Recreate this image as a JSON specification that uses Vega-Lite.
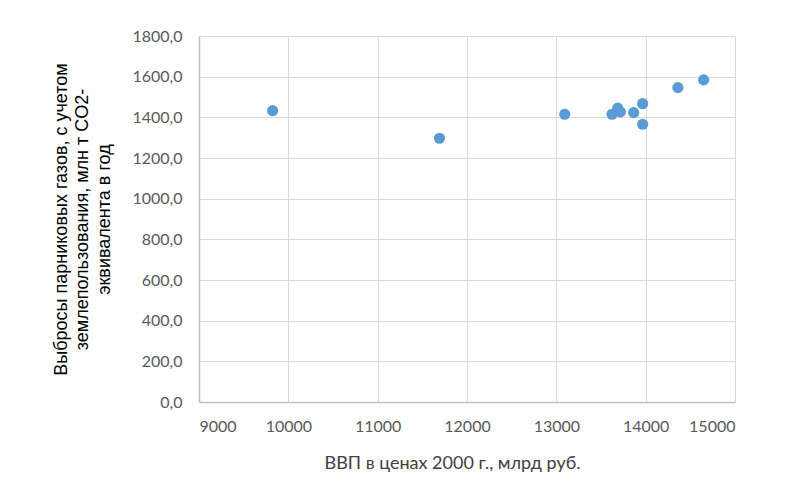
{
  "$schema": "https://vega.github.io/schema/vega-lite/v6.json",
  "width": 536,
  "height": 366,
  "autosize": {"type": "none"},
  "padding": {"left": 199, "top": 36, "right": 63, "bottom": 90},
  "background": "white",
  "config": {
    "locale": {"number": {"decimal": ",", "thousands": "", "grouping": [3], "currency": ["", ""]}},
    "view": {"stroke": null},
    "axis": {
      "gridColor": "#D9D9D9",
      "gridWidth": 1,
      "domainColor": "#BFBFBF",
      "domainWidth": 1.5,
      "ticks": false,
      "labelColor": "#595959",
      "labelFont": "Lato",
      "labelFontSize": 16,
      "titleFontWeight": "normal"
    }
  },
  "data": {
    "values": [
      {"gdp": 9824, "ghg": 1433},
      {"gdp": 11692, "ghg": 1297},
      {"gdp": 13094, "ghg": 1415},
      {"gdp": 13623, "ghg": 1415},
      {"gdp": 13687, "ghg": 1445},
      {"gdp": 13717, "ghg": 1427},
      {"gdp": 13866, "ghg": 1423},
      {"gdp": 13966, "ghg": 1467},
      {"gdp": 13966, "ghg": 1366},
      {"gdp": 14361, "ghg": 1546},
      {"gdp": 14649, "ghg": 1584}
    ]
  },
  "mark": {"type": "point", "filled": true, "opacity": 1, "size": 125, "color": "#5B9BD5"},
  "encoding": {
    "x": {
      "field": "gdp",
      "type": "quantitative",
      "scale": {"domain": [9000, 15000], "nice": false, "zero": false},
      "axis": {
        "values": [9000, 10000, 11000, 12000, 13000, 14000, 15000],
        "format": "d",
        "labelPadding": 16,
        "domain": true,
        "title": "ВВП в ценах 2000 г., млрд руб.",
        "titleFont": "Lato",
        "titleFontSize": 18,
        "titleColor": "#404040",
        "titleAnchor": "middle",
        "titleAlign": "center",
        "titleBaseline": "middle",
        "titleX": 253,
        "titleY": 61
      }
    },
    "y": {
      "field": "ghg",
      "type": "quantitative",
      "scale": {"domain": [0, 1800], "nice": false},
      "axis": {
        "values": [0, 200, 400, 600, 800, 1000, 1200, 1400, 1600, 1800],
        "format": ".1f",
        "labelPadding": 17,
        "title": ["Выбросы парниковых газов, с учетом", "землепользования, млн т  CO2-", "эквивалента в год"],
        "titleFont": "Liberation Sans",
        "titleFontSize": 18,
        "titleColor": "#000000",
        "titleLineHeight": 21.5,
        "titleAngle": -90,
        "titleAlign": "center",
        "titleBaseline": "top",
        "titleX": -147,
        "titleY": 183
      }
    }
  }
}
